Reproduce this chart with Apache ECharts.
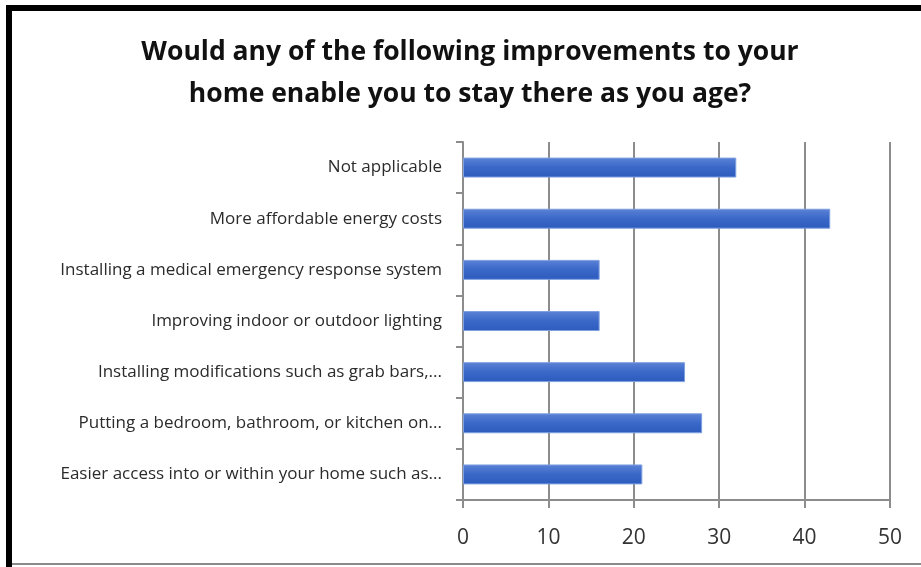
<!DOCTYPE html>
<html>
<head>
<meta charset="utf-8">
<script src="https://cdn.jsdelivr.net/npm/echarts@6/dist/echarts.min.js"></script>
<style>html,body{margin:0;padding:0;background:#fff}#c{width:921px;height:567px}</style>
</head>
<body>
<div id="c"></div>
<script>
const titleText = "Would any of the following improvements to your\nhome enable you to stay there as you age?";
const categories = [
  "Not applicable",
  "More affordable energy costs",
  "Installing a medical emergency response system",
  "Improving indoor or outdoor lighting",
  "Installing modifications such as grab bars,...",
  "Putting a bedroom, bathroom, or kitchen on...",
  "Easier access into or within your home such as..."
];
const values = [32, 43, 16, 16, 26, 28, 21];
const xTicks = [0, 10, 20, 30, 40, 50];

const chart = echarts.init(document.getElementById('c'), null, {renderer: 'canvas'});
chart.setOption({
  backgroundColor: '#fff',
  animation: false,
  title: {
    text: titleText,
    left: 470,
    textAlign: 'center',
    top: 31,
    padding: 0,
    textStyle: {
      fontFamily: 'Open Sans, sans-serif',
      fontSize: 26.5,
      fontWeight: 'bold',
      color: '#111111',
      lineHeight: 42
    }
  },
  grid: {left: 463, right: 31, top: 142, bottom: 67, containLabel: false},
  xAxis: {
    type: 'value',
    min: xTicks[0],
    max: xTicks[xTicks.length - 1],
    interval: 10,
    axisLine: {show: true, lineStyle: {color: '#8c8c8c', width: 2}},
    axisTick: {show: true, length: 8, lineStyle: {color: '#8c8c8c', width: 2}},
    axisLabel: {color: '#333333', fontSize: 21, margin: 28, fontFamily: 'Open Sans, sans-serif'},
    splitLine: {show: true, lineStyle: {color: '#8c8c8c', width: 2}}
  },
  yAxis: {
    type: 'category',
    inverse: true,
    data: categories,
    axisLine: {show: true, lineStyle: {color: '#8c8c8c', width: 2}},
    axisTick: {show: true, length: 7, lineStyle: {color: '#8c8c8c', width: 2}},
    axisLabel: {color: '#2b2b2b', fontSize: 17, margin: 21, fontFamily: 'Open Sans, sans-serif'}
  },
  series: [{
    type: 'bar',
    data: values,
    barWidth: '39%',
    itemStyle: {
      color: new echarts.graphic.LinearGradient(0, 0, 0, 1, [
        {offset: 0, color: '#5b82d6'},
        {offset: 0.5, color: '#3a68c8'},
        {offset: 1, color: '#2c5bbd'}
      ]),
      borderColor: '#7e9fe0',
      borderWidth: 1
    }
  }],
  graphic: [
    {type: 'rect', shape: {x: 6, y: 5, width: 915, height: 6}, style: {fill: '#000'}},
    {type: 'rect', shape: {x: 6, y: 5, width: 6, height: 562}, style: {fill: '#000'}},
    {type: 'rect', shape: {x: 12, y: 563, width: 909, height: 2}, style: {fill: '#8a8a8a'}}
  ]
});
</script>
</body>
</html>
